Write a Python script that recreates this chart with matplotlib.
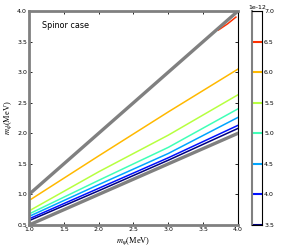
import matplotlib
matplotlib.use('Agg')
import matplotlib.pyplot as plt
from matplotlib.ticker import FuncFormatter

plt.rcParams['axes.unicode_minus'] = False
plt.rcParams['mathtext.fontset'] = 'stix'

# contour levels (colorbar) and the lines
levels = [3.5e-12, 4.0e-12, 4.5e-12, 5.0e-12, 5.5e-12, 6.0e-12, 6.5e-12, 7.0e-12]
x_pts = [1.0, 2.0, 3.0, 4.0]
c35 = [0.57, 1.06, 1.56, 2.08]
c40 = [0.60, 1.10, 1.60, 2.13]
c45 = [0.64, 1.16, 1.67, 2.26]
c50 = [0.68, 1.23, 1.77, 2.40]
c55 = [0.73, 1.37, 1.97, 2.63]
c60 = [0.90, 1.63, 2.35, 3.05]
red_x = [3.72, 3.85, 3.97]
c65 = [3.69, 3.79, 3.90]

# boundaries m_phi = m_psi and m_phi = m_psi/2
bound_x = [1.0, 4.0]
upper = [1.0, 4.0]
lower = [0.5, 2.0]

cmap = plt.get_cmap('jet')
cols = [cmap(i / (len(levels) - 1)) for i in range(len(levels))]

fig = plt.figure(figsize=(2.97, 2.5), dpi=100)
ax = fig.add_axes([29/297, 0.1, 209/297, 0.856])

ax.plot(bound_x, upper, color='gray', lw=2.4, zorder=3)
ax.plot(bound_x, lower, color='gray', lw=2.4, zorder=3)

for ys, c in zip([c35, c40, c45, c50, c55, c60], cols[:6]):
    ax.plot(x_pts, ys, color=c, lw=1.1)
ax.plot(red_x, c65, color=cols[6], lw=1.1)

ax.set_xlim(1.0, 4.0)
ax.set_ylim(0.5, 4.0)
ax.set_xticks([1.0, 1.5, 2.0, 2.5, 3.0, 3.5, 4.0])
ax.set_yticks([0.5, 1.0, 1.5, 2.0, 2.5, 3.0, 3.5, 4.0])
ax.tick_params(direction='in', top=True, right=True, labelsize=4.5, length=2.5, width=0.6, pad=1.5)
for s in ['left', 'top', 'bottom']:
    ax.spines[s].set_color('gray')
    ax.spines[s].set_linewidth(2)
ax.spines['right'].set_linewidth(0.8)

ax.set_xlabel(r'$m_\psi$(MeV)', fontsize=6, family='Liberation Serif', labelpad=2)
ax.set_ylabel(r'$m_\phi$(MeV)', fontsize=6, family='Liberation Serif', labelpad=2)
ax.text(1.19, 3.76, 'Spinor case', fontsize=5.8, va='center')

# colorbar for contour lines
cax = fig.add_axes([252/297, 0.1, 10/297, 0.856])
cax.set_xlim(0, 1)
cax.set_ylim(levels[0], levels[-1])
cax.hlines(levels, 0, 1, colors=cols, lw=1.5)
cax.set_xticks([])
cax.yaxis.tick_right()
cax.set_yticks(levels)
cax.yaxis.set_major_formatter(FuncFormatter(lambda v, p: '%.1f' % (v / 1e-12)))
cax.tick_params(direction='in', labelsize=4.5, length=2.5, width=0.6, pad=1.5)
cax.spines['left'].set_color('gray')
cax.spines['left'].set_linewidth(1.5)
cax.spines['top'].set_linewidth(0.8)
cax.spines['bottom'].set_linewidth(0.8)
cax.spines['right'].set_linewidth(0.8)
cax.text(0.5, 1.005, '1e-12', transform=cax.transAxes, fontsize=4.5, ha='center', va='bottom')

fig.savefig('out.png', dpi=100)
